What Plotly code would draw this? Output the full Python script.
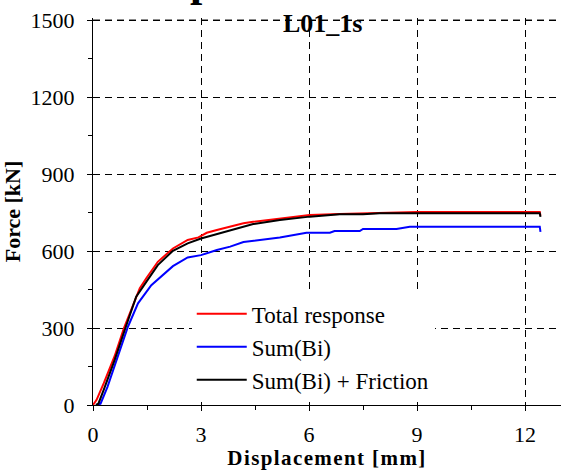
import plotly.graph_objects as go

# Total response (measured)
disp_total = [0.0, 0.1, 0.3, 0.6, 0.86, 1.16, 1.3, 1.48, 1.8, 2.22, 2.63, 2.93, 3.16,
              3.44, 3.81, 4.18, 4.45, 5.19, 6.02, 6.85, 7.96, 9.0, 10.0, 11.0, 12.0,
              12.41, 12.43]
force_total = [0, 20, 85, 190, 300, 409, 455, 494, 558, 610, 643, 653, 671,
               682, 695, 708, 714, 727, 740, 744, 749, 752, 752, 752, 752,
               752, 738]

# Sum of bolt forces
disp_bi = [0.12, 0.21, 0.4, 0.7, 0.97, 1.25, 1.62, 2.22, 2.63, 3.0, 3.44, 3.81, 4.18,
           5.19, 5.93, 6.58, 6.71, 7.41, 7.5, 8.43, 8.8, 12.41, 12.43]
force_bi = [0, 5, 70, 190, 305, 396, 467, 541, 575, 584, 604, 617, 635,
            653, 671, 671, 678, 678, 686, 686, 695, 695, 675]

# Sum of bolt forces plus friction
disp_fric = [0.08, 0.15, 0.3, 0.6, 0.9, 1.2, 1.48, 1.8, 2.22, 2.63, 3.0, 3.5, 4.18,
             4.45, 5.19, 6.02, 6.85, 7.5, 7.96, 9.0, 10.0, 11.0, 12.0, 12.41, 12.43]
force_fric = [0, 5, 60, 175, 300, 422, 480, 545, 601, 630, 649, 669, 697,
              705, 721, 734, 743, 743, 747, 747, 747, 747, 747, 747, 733]

x_ticks = [0, 3, 6, 9, 12]
y_ticks = [0, 300, 600, 900, 1200, 1500]
x_range = [0, 13]
# a hair above 1500 so the top grid line stays inside the plot area
y_range = [0, 1508]

SERIF = "Liberation Serif"
GRID_DASH = "7px,5px"

fig = go.Figure()
fig.add_trace(go.Scatter(x=disp_total, y=force_total, mode="lines", name="Total response",
                         line=dict(color="#ff0000", width=2)))
fig.add_trace(go.Scatter(x=disp_bi, y=force_bi, mode="lines", name="Sum(Bi)",
                         line=dict(color="#0000ff", width=2)))
fig.add_trace(go.Scatter(x=disp_fric, y=force_fric, mode="lines", name="Sum(Bi) + Friction",
                         line=dict(color="#000000", width=2)))

axis_common = dict(
    showline=True, linecolor="black", linewidth=1.2,
    ticks="outside", ticklen=5, tickcolor="black", tickwidth=1,
    showgrid=True, gridcolor="black", gridwidth=1, griddash=GRID_DASH,
    zeroline=False,
    tickfont=dict(family=SERIF, size=22, color="black"),
)

fig.update_xaxes(
    range=x_range, tickvals=x_ticks, ticktext=[str(v) for v in x_ticks],
    ticklabelstandoff=4,
    minor=dict(dtick=1.5, tick0=0, ticks="outside", ticklen=4, tickcolor="black", showgrid=False),
    title=dict(text='<span style="letter-spacing:1.4px">Displacement [mm]</span>',
               font=dict(family=SERIF, size=21, color="black", weight="bold"), standoff=3),
    **axis_common,
)
fig.update_yaxes(
    range=y_range, tickvals=y_ticks, ticktext=[str(v) for v in y_ticks],
    ticklabelstandoff=8,
    minor=dict(dtick=150, tick0=0, ticks="outside", ticklen=4, tickcolor="black", showgrid=False),
    title=dict(text="Force [kN]", font=dict(family=SERIF, size=22, color="black", weight="bold"),
               standoff=5),
    **axis_common,
)

# top grid line drawn explicitly across the full plot width
fig.add_shape(type="line", xref="x domain", yref="y", x0=0, x1=1,
              y0=y_ticks[-1], y1=y_ticks[-1],
              line=dict(color="black", width=1, dash=GRID_DASH), layer="above")

fig.add_annotation(text="<b>L01_1s</b>", xref="paper", yref="paper", x=0.491, y=0.985,
                   xanchor="center", yanchor="middle", showarrow=False,
                   font=dict(family=SERIF, size=26, color="black"))
fig.add_annotation(text="<b>p</b>", xref="paper", yref="paper", x=0.232, y=1.025,
                   xanchor="center", yanchor="bottom", showarrow=False,
                   font=dict(family=SERIF, size=44, color="black"))

fig.update_layout(
    width=563, height=470,
    margin=dict(l=93, r=2, t=18, b=65),
    paper_bgcolor="white", plot_bgcolor="white",
    showlegend=True,
    legend=dict(x=0.211, y=0.291, xanchor="left", yanchor="top",
                bgcolor="white", borderwidth=0, itemwidth=50,
                font=dict(family=SERIF, size=23, color="black"),
                tracegroupgap=0),
)

fig.write_html("out.html")
